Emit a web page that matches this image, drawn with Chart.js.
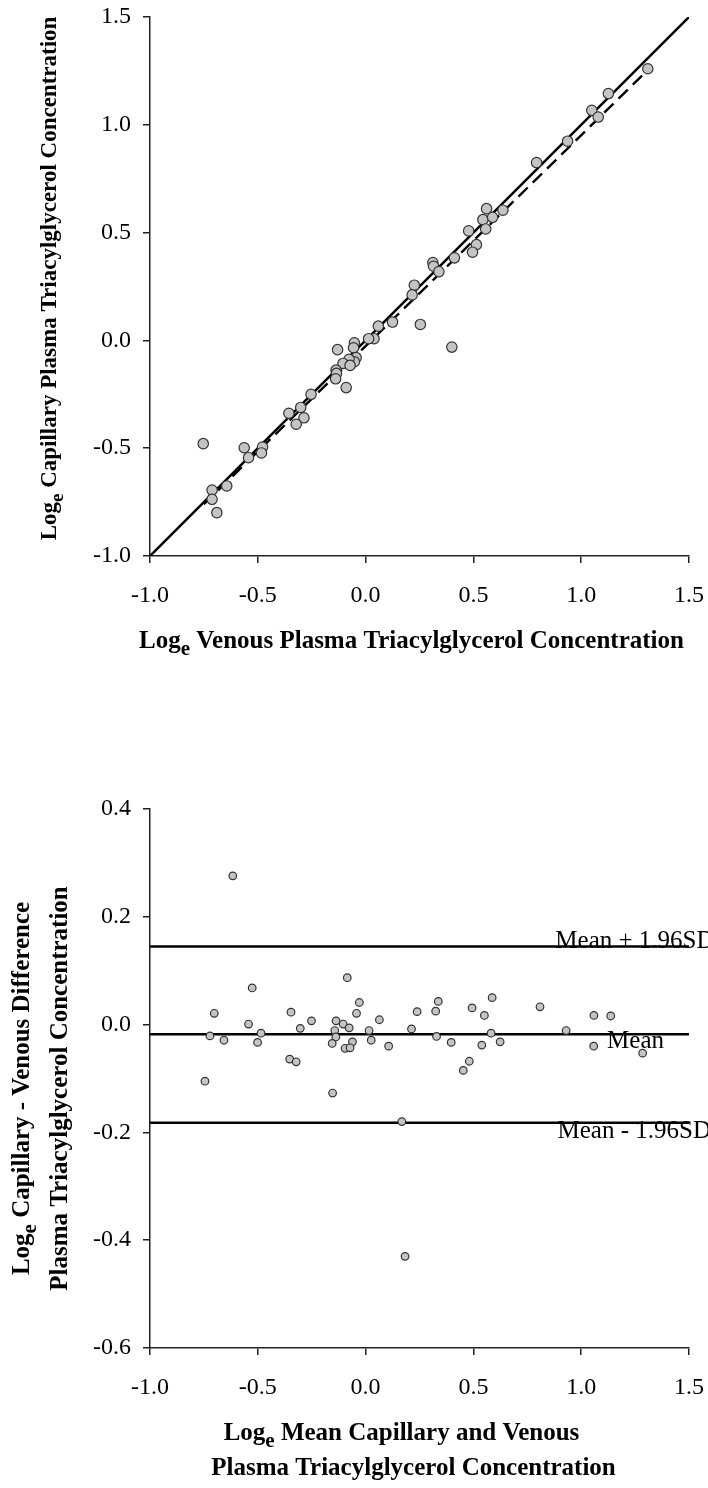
<!DOCTYPE html>
<html>
<head>
<meta charset="utf-8">
<title>Capillary vs venous plasma triacylglycerol</title>
<script src="https://cdn.jsdelivr.net/npm/chart.js@4.4.1/dist/chart.umd.min.js"></script>
<style>
  html, body { margin: 0; padding: 0; background: #fff; }
  #wrap { position: relative; width: 708px; height: 1488px; overflow: hidden; }
  #top { position: absolute; left: 0; top: 0; }
  #bottom { position: absolute; left: 0; top: 720px; }
</style>
</head>
<body>
<div id="wrap">
  <canvas id="top" width="708" height="720"></canvas>
  <canvas id="bottom" width="708" height="768"></canvas>
</div>
<script>
// ---- data ----
// top panel: log venous (x) vs log capillary (y)
var venousLog = [1.309, 1.126, 1.049, 1.079, 0.937, 0.793, 0.637, 0.561, 0.544, 0.589,
  0.557, 0.478, 0.514, 0.496, 0.412, 0.312, 0.315, 0.340, 0.226, 0.216,
  0.125, 0.059, 0.254, 0.400, 0.039, 0.014, -0.052, -0.056, -0.130, -0.044,
  -0.052, -0.077, -0.105, -0.072, -0.137, -0.135, -0.139, -0.090, -0.253, -0.356,
  -0.301, -0.286, -0.322, -0.753, -0.563, -0.478, -0.483, -0.543, -0.644, -0.712,
  -0.712, -0.690];
var capillaryLog = [1.260, 1.145, 1.067, 1.036, 0.924, 0.825, 0.604, 0.611, 0.560, 0.571,
  0.517, 0.508, 0.444, 0.409, 0.383, 0.361, 0.344, 0.319, 0.256, 0.211,
  0.085, 0.066, 0.074, -0.031, 0.008, 0.008, -0.011, -0.034, -0.043, -0.080,
  -0.099, -0.088, -0.107, -0.116, -0.138, -0.153, -0.178, -0.219, -0.250, -0.338,
  -0.311, -0.359, -0.389, -0.479, -0.498, -0.495, -0.522, -0.544, -0.675, -0.694,
  -0.737, -0.799];
var identityX = [-1.0, 1.5];
var identityY = [-1.0, 1.5];
var regressionX = [-0.75, 1.31];
var regressionY = [-0.76, 1.255];

// bottom panel: mean of logs (x) vs difference of logs (y)
var meanLog = [-0.616, -0.745, -0.153, -0.085, -0.526, -0.702, -0.722, -0.657, -0.543, -0.485,
  -0.501, -0.346, -0.303, -0.251, -0.352, -0.322, -0.137, -0.104, -0.076, -0.143,
  -0.138, -0.155, -0.061, -0.095, -0.072, -0.029, -0.042, 0.016, 0.026, 0.064,
  0.107, 0.213, 0.239, 0.325, 0.337, 0.329, 0.397, 0.494, 0.551, 0.587,
  0.582, 0.624, 0.539, 0.481, 0.453, 0.809, 0.930, 1.059, 1.137, 1.058,
  1.285, 0.168, 0.183];
var diffLog = [0.276, -0.105, -0.127, 0.087, 0.068, 0.021, -0.021, -0.029, 0.001, -0.016,
  -0.033, 0.023, -0.007, 0.007, -0.064, -0.069, 0.007, 0.001, -0.006, -0.011,
  -0.023, -0.035, -0.032, -0.044, -0.043, 0.041, 0.021, -0.011, -0.029, 0.009,
  -0.040, -0.008, 0.024, 0.025, 0.043, -0.022, -0.033, 0.031, 0.017, 0.050,
  -0.016, -0.032, -0.038, -0.068, -0.085, 0.033, -0.011, 0.017, 0.016, -0.040,
  -0.053, -0.180, -0.430];
var limitX = [-1.0, 1.5];
var meanDiff = -0.018;
var upperLimit = 0.145;
var lowerLimit = -0.182;
var limitNames = ['Mean + 1.96SD', 'Mean', 'Mean - 1.96SD'];

// tick values
var logTicks = [-1.0, -0.5, 0.0, 0.5, 1.0, 1.5];
var diffTicks = [-0.6, -0.4, -0.2, 0.0, 0.2, 0.4];

var SERIF = '"Liberation Serif", "Times New Roman", serif';
var AXIS = '#222';
Chart.defaults.font.family = SERIF;
Chart.defaults.color = '#000';

function pairs(xs, ys) {
  return xs.map(function (x, i) { return { x: x, y: ys[i] }; });
}
function fmt(v) {
  if (Math.abs(v) < 1e-9) return '0.0';
  return v.toFixed(1);
}

// fixed-size axis; label overflow is handled by layout padding instead
function axis(ticks, pad, size, horizontal) {
  return {
    type: 'linear',
    min: ticks[0],
    max: ticks[ticks.length - 1],
    afterBuildTicks: function (s) { s.ticks = ticks.map(function (v) { return { value: v }; }); },
    afterFit: function (s) {
      if (horizontal) s.height = size; else s.width = size;
      s.paddingLeft = s.paddingRight = s.paddingTop = s.paddingBottom = 0;
    },
    border: { display: true, color: AXIS, width: 1.5 },
    grid: { drawOnChartArea: false, drawTicks: true, tickLength: 7, color: AXIS, lineWidth: 1.5 },
    ticks: { font: { size: 24 }, color: '#000', callback: fmt, padding: pad, maxRotation: 0 }
  };
}

// draws "Log" + subscript e + rest, centred on (cx, baseline)
function logTitle(ctx, rest, cx, cy, rotate, size) {
  ctx.save();
  ctx.translate(cx, cy);
  if (rotate) ctx.rotate(-Math.PI / 2);
  ctx.fillStyle = '#000';
  ctx.textBaseline = 'alphabetic';
  ctx.textAlign = 'left';
  var big = 'bold ' + size + 'px ' + SERIF, small = 'bold ' + Math.round(size * 0.84) + 'px ' + SERIF;
  ctx.font = big;
  var w1 = ctx.measureText('Log').width, w3 = ctx.measureText(rest).width;
  ctx.font = small;
  var w2 = ctx.measureText('e').width;
  var x0 = -(w1 + w2 + w3) / 2;
  ctx.font = big;
  ctx.fillText('Log', x0, 0);
  ctx.font = small;
  ctx.fillText('e', x0 + w1, 7);
  ctx.font = big;
  ctx.fillText(rest, x0 + w1 + w2, 0);
  ctx.restore();
}
function plainTitle(ctx, text, cx, cy, rotate) {
  ctx.save();
  ctx.translate(cx, cy);
  if (rotate) ctx.rotate(-Math.PI / 2);
  ctx.fillStyle = '#000';
  ctx.font = 'bold 25px ' + SERIF;
  ctx.textAlign = 'center';
  ctx.textBaseline = 'alphabetic';
  ctx.fillText(text, 0, 0);
  ctx.restore();
}

var topTitles = {
  id: 'topTitles',
  afterDraw: function (chart) {
    var ctx = chart.ctx, a = chart.chartArea;
    logTitle(ctx, ' Venous Plasma Triacylglycerol Concentration', (a.left + a.right) / 2 - 8, a.bottom + 92, false, 25);
    logTitle(ctx, ' Capillary Plasma Triacylglycerol Concentration', 56, (a.top + a.bottom) / 2 - 8, true, 23);
  }
};

var bottomTitles = {
  id: 'bottomTitles',
  afterDraw: function (chart) {
    var ctx = chart.ctx, a = chart.chartArea, sx = chart.scales.x, sy = chart.scales.y;
    logTitle(ctx, ' Mean Capillary and Venous', (a.left + a.right) / 2 - 18, a.bottom + 92, false, 25);
    plainTitle(ctx, 'Plasma Triacylglycerol Concentration', (a.left + a.right) / 2 - 6, a.bottom + 127, false);
    logTitle(ctx, ' Capillary - Venous Difference', 29, (a.top + a.bottom) / 2 + 10, true, 25);
    plainTitle(ctx, 'Plasma Triacylglycerol Concentration', 67, (a.top + a.bottom) / 2 + 10, true);

    // limit labels
    ctx.save();
    ctx.fillStyle = '#000';
    ctx.font = '25px ' + SERIF;
    ctx.textAlign = 'left';
    ctx.textBaseline = 'alphabetic';
    ctx.fillText(limitNames[0], sx.getPixelForValue(0.88), sy.getPixelForValue(upperLimit) + 2);
    ctx.fillText(limitNames[1], sx.getPixelForValue(1.12), sy.getPixelForValue(meanDiff) + 14);
    ctx.fillText(limitNames[2], sx.getPixelForValue(0.89), sy.getPixelForValue(lowerLimit) + 15);
    ctx.restore();
  }
};

function lineSet(xs, ys, dash, width) {
  return {
    type: 'scatter', data: pairs(xs, ys), showLine: true, pointRadius: 0,
    borderColor: '#000', borderWidth: width, borderDash: dash, fill: false, order: 2
  };
}

new Chart(document.getElementById('top'), {
  type: 'scatter',
  data: {
    datasets: [
      { data: pairs(venousLog, capillaryLog), pointRadius: 5.2, pointBackgroundColor: '#c4c4c4',
        pointBorderColor: '#333', pointBorderWidth: 1.2, order: 0 },
      lineSet(identityX, identityY, [], 2.5),
      lineSet(regressionX, regressionY, [13, 7], 2.4)
    ]
  },
  options: {
    responsive: false, animation: false, devicePixelRatio: 1,
    layout: { padding: { left: 0, right: 19, top: 17, bottom: 0 } },
    plugins: { legend: { display: false }, tooltip: { enabled: false } },
    scales: {
      x: axis(logTicks, 18, 164, true),
      y: axis(logTicks, 12, 150, false)
    }
  },
  plugins: [topTitles]
});

new Chart(document.getElementById('bottom'), {
  type: 'scatter',
  data: {
    datasets: [
      { data: pairs(meanLog, diffLog), pointRadius: 3.8, pointBackgroundColor: '#c4c4c4',
        pointBorderColor: '#333', pointBorderWidth: 1.2, order: 0 },
      lineSet(limitX, [upperLimit, upperLimit], [], 2.6),
      lineSet(limitX, [meanDiff, meanDiff], [], 2.6),
      lineSet(limitX, [lowerLimit, lowerLimit], [], 2.6)
    ]
  },
  options: {
    responsive: false, animation: false, devicePixelRatio: 1,
    layout: { padding: { left: 0, right: 19, top: 89, bottom: 0 } },
    plugins: { legend: { display: false }, tooltip: { enabled: false } },
    scales: {
      x: axis(logTicks, 18, 140, true),
      y: axis(diffTicks, 12, 150, false)
    }
  },
  plugins: [bottomTitles]
});
</script>
</body>
</html>
